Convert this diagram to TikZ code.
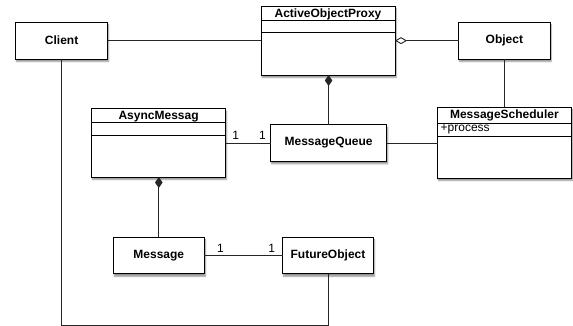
\documentclass[tikz,border=0pt]{standalone}
\usepackage{fontspec}
\setmainfont{Liberation Sans}
\usetikzlibrary{arrows.meta,shadows,shadows.blur}
\begin{document}
\begin{tikzpicture}[x=1pt,y=-1pt,
  box/.style={draw=black, line width=0.9pt, fill=white, rectangle, anchor=north west,
    outer sep=0pt, inner sep=0pt, font=\fontsize{12}{14}\selectfont\bfseries,
    blur shadow={shadow blur steps=6, shadow blur radius=1.5pt, shadow xshift=1pt, shadow yshift=-2.5pt, shadow opacity=45}},
  ctitle/.style={font=\fontsize{12}{14}\selectfont\bfseries, inner sep=0pt, anchor=base},
  attr/.style={font=\fontsize{12}{14}\selectfont, inner sep=0pt, anchor=base west},
  mult/.style={font=\fontsize{12}{14}\selectfont, inner sep=0pt},
  conn/.style={draw=black!85, line width=0.9pt},
  comp/.style={draw=black, line width=0.9pt},
  filldia/.style={{Diamond[length=11pt,width=7.5pt]}-},
  opendia/.style={{Diamond[open,length=12pt,width=7pt]}-}
]
\useasboundingbox (0,0) rectangle (573,326);

% boxes
\node[box, minimum width=91.8pt, minimum height=36.7pt] (client) at (15.7,22.3) {Client};
\node[box, minimum width=134pt, minimum height=69pt] (aop) at (261,6) {};
\node[box, minimum width=91.3pt, minimum height=36.7pt] (object) at (458.7,22.3) {Object};
\node[box, minimum width=133.8pt, minimum height=68.3pt] (amsg) at (91.7,108.7) {};
\node[box, minimum width=116.2pt, minimum height=36.6pt] (mq) at (270.5,124.7) {MessageQueue};
\node[box, minimum width=133.8pt, minimum height=70.7pt] (ms) at (437.5,107.3) {};
\node[box, minimum width=91pt, minimum height=36.4pt] (msg) at (113.3,237.3) {Message};
\node[box, minimum width=91pt, minimum height=36.4pt] (fo) at (282.5,237.3) {FutureObject};

% class titles and compartments
\node[ctitle] (aoptitle) at (328,17.4) {ActiveObjectProxy};
\draw[comp] (aop.west |- 0,20.7) -- (aop.east |- 0,20.7);
\draw[comp] (aop.west |- 0,32.3) -- (aop.east |- 0,32.3);

\node[ctitle] (amsgtitle) at (158.6,119.6) {AsyncMessag};
\draw[comp] (amsg.west |- 0,122.7) -- (amsg.east |- 0,122.7);
\draw[comp] (amsg.west |- 0,135) -- (amsg.east |- 0,135);

\node[ctitle] (mstitle) at (504.4,118.4) {MessageScheduler};
\draw[comp] (ms.west |- 0,123.3) -- (ms.east |- 0,123.3);
\draw[comp] (ms.west |- 0,136) -- (ms.east |- 0,136);
\node[attr] (process) at (440.5,131.8) {+process};

% connectors
\draw[conn] (client.east) -- (client.east -| aop.west);
\draw[conn, opendia] (aop.east |- object.west) -- (object.west);
\draw[conn, filldia] (mq.north |- aop.south) -- (mq.north);
\draw[conn] (object.south) -- (object.south |- ms.north);
\draw[conn] (amsg.east |- mq.west) -- (mq.west);
\draw[conn] (mq.east) -- (mq.east -| ms.west);
\draw[conn, filldia] (msg.north |- amsg.south) -- (msg.north);
\draw[conn] (msg.east) -- (fo.west);
\coordinate (bl) at (client.south |- 0,325);
\coordinate (br) at (fo.south |- 0,325);
\draw[conn] (client.south) -- (bl) -- (br) -- (fo.south);

% multiplicities
\node[mult] (m1) at (235.7,135) {1};
\node[mult] (m2) at (262.4,135) {1};
\node[mult] (m3) at (220.4,248.3) {1};
\node[mult] (m4) at (271.6,248.3) {1};
\end{tikzpicture}
\end{document}
